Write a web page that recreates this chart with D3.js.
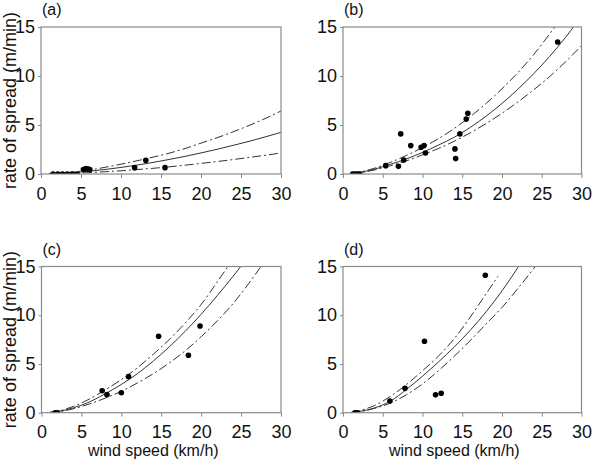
<!DOCTYPE html>
<html>
<head>
<meta charset="utf-8">
<script src="https://cdn.jsdelivr.net/npm/d3@7"></script>
<style>
  body { margin: 0; background: #fff; }
  svg { display: block; font-family: "Liberation Sans", Arial, sans-serif; }
</style>
</head>
<body>
<div id="chart"></div>
<script>
// tick values shared by the 4 panels
var xTicks = [0, 5, 10, 15, 20, 25, 30];
var yTicks = [0, 5, 10, 15];

// x values where the fitted curves are read
var gridX = [1, 2, 4, 6, 8, 10, 12, 14, 16, 18, 20, 22, 24, 26, 28, 30];

// (a)
var obsAx = [1.5, 2.1, 2.7, 3.3, 3.9, 4.5, 5.3, 5.6, 5.9, 6.1, 11.7, 13.1, 15.5];
var obsAy = [0, 0, 0, 0, 0, 0, 0.45, 0.55, 0.5, 0.45, 0.65, 1.4, 0.65];
var fitA = [0.01, 0.045, 0.14, 0.28, 0.46, 0.67, 0.91, 1.18, 1.48, 1.8, 2.15, 2.52, 2.92, 3.33, 3.78, 4.25];
var upA  = [0.02, 0.06, 0.2, 0.4, 0.68, 1.0, 1.35, 1.72, 2.12, 2.6, 3.15, 3.7, 4.3, 4.95, 5.65, 6.43];
var loA  = [0.01, 0.03, 0.07, 0.14, 0.23, 0.33, 0.45, 0.58, 0.73, 0.9, 1.08, 1.27, 1.47, 1.69, 1.91, 2.15];

// (b)
var obsBx = [1.2, 1.5, 1.8, 2.1, 5.37, 6.97, 7.26, 7.64, 8.52, 9.83, 10.2, 10.37, 14.08, 14.17, 14.7, 15.5, 15.7, 27.0];
var obsBy = [0, 0, 0, 0, 0.85, 0.78, 4.09, 1.43, 2.9, 2.73, 2.9, 2.15, 2.56, 1.57, 4.09, 5.6, 6.2, 13.47];
var fitB = [0.05, 0.15, 0.5, 1.0, 1.55, 2.2, 2.95, 3.75, 4.75, 5.9, 7.2, 8.65, 10.25, 12.0, 13.95, 16.1];
var upB  = [0.06, 0.18, 0.6, 1.2, 1.9, 2.7, 3.6, 4.65, 5.85, 7.2, 8.7, 10.35, 12.2, 14.3, 16.5, 18.9];
var loB  = [0.04, 0.12, 0.42, 0.85, 1.35, 1.95, 2.6, 3.35, 4.2, 5.15, 6.2, 7.35, 8.6, 9.95, 11.45, 13.1];

// (c)
var obsCx = [1.7, 2.0, 7.6, 8.2, 10.0, 10.9, 14.67, 18.4, 19.86];
var obsCy = [0, 0, 2.25, 1.85, 2.05, 3.7, 7.85, 5.9, 8.89];
var fitC = [0.02, 0.12, 0.5, 1.1, 1.95, 2.9, 4.0, 5.3, 6.75, 8.35, 10.1, 12.0, 14.0, 16.1, 18.3, 20.6];
var upC  = [0.03, 0.15, 0.65, 1.4, 2.35, 3.4, 4.6, 6.0, 7.5, 9.2, 11.1, 13.4, 15.8, 18.3, 21, 24];
var loC  = [0.01, 0.08, 0.4, 0.9, 1.5, 2.2, 3.05, 4.0, 5.1, 6.35, 7.8, 9.4, 11.2, 13.3, 15.6, 18];

// (d)
var obsDx = [1.5, 1.8, 5.9, 7.8, 10.25, 11.64, 12.35, 17.9];
var obsDy = [0, 0, 1.2, 2.5, 7.33, 1.83, 2.0, 14.1];
var fitD = [0.02, 0.12, 0.5, 1.2, 2.4, 3.75, 5.2, 6.75, 8.45, 10.35, 12.5, 14.9, 17.5, 20.3, 23.3, 26.5];
var upDx = [1, 2, 4, 6, 8, 10, 12, 14, 16, 18, 19.5];
var upD  = [0.03, 0.2, 0.75, 1.7, 2.9, 4.3, 5.8, 7.6, 9.8, 12.2, 14.0];
var loD  = [0.01, 0.1, 0.45, 1.0, 1.85, 2.95, 4.3, 5.8, 7.4, 9.1, 10.8, 12.75, 14.8, 17, 19.3, 21.7];

var svg = d3.select("#chart").append("svg")
	.attr("width", 592)
	.attr("height", 463);

var frameCol = "#8a8a8a";
var lineCol = "#333";
var dashDot = "9,3,2,3";

var paneles = [
	{ id: "a", left: 41, right: 281, top: 27, bottom: 174, ox: obsAx, oy: obsAy, fit: fitA, up: upA, upx: gridX, lo: loA, ylab: true, xlab: false },
	{ id: "b", left: 343, right: 581.5, top: 27, bottom: 174, ox: obsBx, oy: obsBy, fit: fitB, up: upB, upx: gridX, lo: loB, ylab: false, xlab: false },
	{ id: "c", left: 41.5, right: 281, top: 266.5, bottom: 412.7, ox: obsCx, oy: obsCy, fit: fitC, up: upC, upx: gridX, lo: loC, ylab: true, xlab: true },
	{ id: "d", left: 343, right: 581.5, top: 266.5, bottom: 412.7, ox: obsDx, oy: obsDy, fit: fitD, up: upD, upx: upDx, lo: loD, ylab: false, xlab: true }
];

paneles.forEach(function(p) {
	var x = d3.scaleLinear().domain([0, 30]).range([p.left, p.right]);
	var y = d3.scaleLinear().domain([0, 15]).range([p.bottom, p.top]);
	var g = svg.append("g");

	// clip so curves and dots stop at the frame
	svg.append("clipPath").attr("id", "clip-" + p.id)
		.append("rect")
		.attr("x", p.left).attr("y", p.top)
		.attr("width", p.right - p.left).attr("height", p.bottom - p.top);

	var xAxis = g.append("g")
		.attr("transform", "translate(0," + p.bottom + ")")
		.call(d3.axisBottom(x).tickValues(xTicks).tickSize(4).tickPadding(9));
	var yAxis = g.append("g")
		.attr("transform", "translate(" + p.left + ",0)")
		.call(d3.axisLeft(y).tickValues(yTicks).tickSize(3).tickPadding(3));
	[xAxis, yAxis].forEach(function(a) {
		a.select(".domain").remove();
		a.selectAll(".tick line").attr("stroke", frameCol);
		a.selectAll(".tick text")
			.attr("fill", "#111")
			.style("font-size", "18px")
			.style("font-family", "'Liberation Sans', Arial, sans-serif");
	});

	var curvas = g.append("g").attr("clip-path", "url(#clip-" + p.id + ")");

	var linea = function(xs) {
		return d3.line()
			.x(function(d, i) { return x(xs[i]); })
			.y(function(d) { return y(d); })
			.curve(d3.curveMonotoneX);
	};

	curvas.append("path")
		.attr("d", linea(gridX)(p.fit))
		.attr("fill", "none").attr("stroke", lineCol).attr("stroke-width", 1);
	curvas.append("path")
		.attr("d", linea(p.upx)(p.up))
		.attr("fill", "none").attr("stroke", lineCol).attr("stroke-width", 1)
		.attr("stroke-dasharray", dashDot);
	curvas.append("path")
		.attr("d", linea(gridX)(p.lo))
		.attr("fill", "none").attr("stroke", lineCol).attr("stroke-width", 1)
		.attr("stroke-dasharray", dashDot);

	curvas.selectAll("circle.obs")
		.data(p.ox)
		.enter().append("circle")
		.attr("class", "obs")
		.attr("cx", function(d) { return x(d); })
		.attr("cy", function(d, i) { return y(p.oy[i]); })
		.attr("r", 2.8)
		.attr("fill", "#000");

	g.append("rect")
		.attr("x", p.left).attr("y", p.top)
		.attr("width", p.right - p.left).attr("height", p.bottom - p.top)
		.attr("fill", "none")
		.attr("stroke", frameCol)
		.attr("stroke-width", 1.2);

	g.append("text")
		.attr("x", p.left + 1)
		.attr("y", p.top - 12)
		.attr("fill", "#111")
		.style("font-size", "16px")
		.text("(" + p.id + ")");

	if (p.ylab) {
		g.append("text")
			.attr("transform", "translate(16," + ((p.top + p.bottom) / 2) + ") rotate(-90)")
			.attr("text-anchor", "middle")
			.attr("fill", "#111")
			.style("font-size", "18px")
			.text("rate of spread (m/min)");
	}
	if (p.xlab) {
		g.append("text")
			.attr("x", (p.left + p.right) / 2 - 8)
			.attr("y", 456)
			.attr("text-anchor", "middle")
			.attr("fill", "#111")
			.style("font-size", "16px")
			.text("wind speed (km/h)");
	}
});
</script>
</body>
</html>
